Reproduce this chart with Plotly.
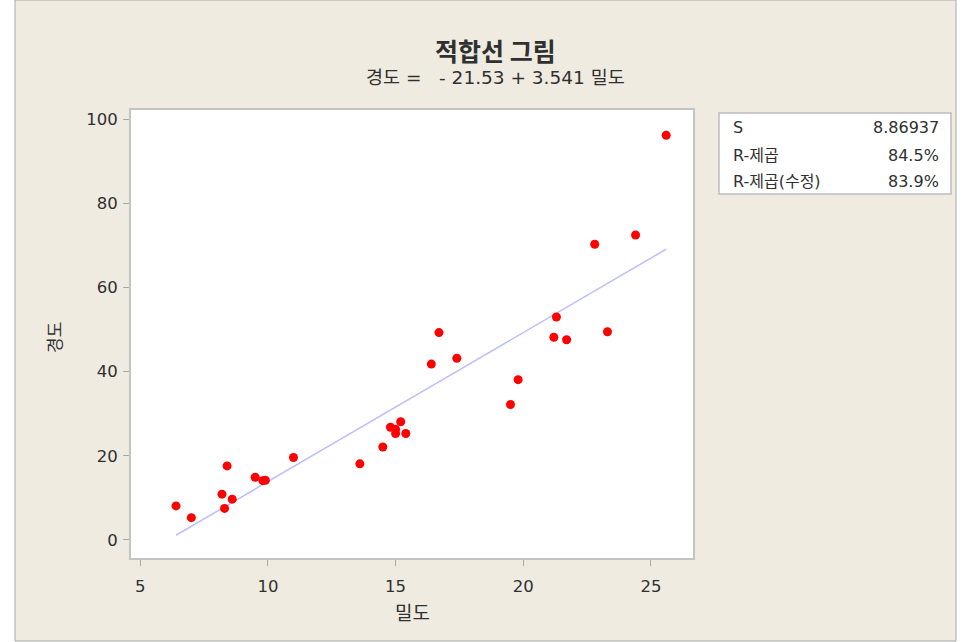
import numpy as np
import plotly.graph_objects as go

# ---- data ----
density = [6.4, 7.0, 8.2, 8.3, 8.4, 8.6, 9.5, 9.8, 9.9, 11.0,
           13.6, 14.5, 14.8, 15.0, 15.0, 15.2, 15.4, 16.4, 16.7, 17.4,
           19.5, 19.8, 21.2, 21.3, 21.7, 22.8, 23.3, 24.4, 25.6]
hardness = [8.1, 5.3, 10.9, 7.5, 17.6, 9.7, 14.9, 14.1, 14.2, 19.6,
            18.1, 22.1, 26.8, 26.3, 25.3, 28.1, 25.3, 41.8, 49.3, 43.2,
            32.2, 38.1, 48.2, 53.0, 47.6, 70.3, 49.5, 72.5, 96.2]
intercept = -21.53
slope = 3.541
stat_labels = ["S", "R-제곱", "R-제곱(수정)"]
stat_values = ["8.86937", "84.5%", "83.9%"]
x_ticks = [5, 10, 15, 20, 25]
y_ticks = [0, 20, 40, 60, 80, 100]

# ---- figure geometry (pixels) ----
W, H = 966, 642
L, R, T, B = 131, 693, 110, 558
pw, ph = R - L, B - T


def px(x):
    return (x - L) / pw


def py(y):
    return (B - y) / ph


LAT = "DejaVu Sans, Noto Sans CJK KR, sans-serif"
KR = "Noto Sans CJK KR, DejaVu Sans, sans-serif"
TXT = "#303030"

fit_x = np.array([min(density), max(density)])
fit_y = intercept + slope * fit_x

fig = go.Figure()
fig.add_trace(go.Scatter(x=fit_x, y=fit_y, mode="lines",
                         line=dict(color="#BCBCFF", width=1.5),
                         hoverinfo="skip", showlegend=False))
fig.add_trace(go.Scatter(x=density, y=hardness, mode="markers",
                         marker=dict(color="#FF0000", size=9, line=dict(width=0)),
                         showlegend=False))

shapes = [
    dict(type="rect", xref="paper", yref="paper", layer="below",
         x0=px(15), x1=px(956), y0=py(641), y1=py(0),
         fillcolor="#EFEBE0", line=dict(color="#A8A8A8", width=1)),
    dict(type="rect", xref="paper", yref="paper", layer="below",
         x0=0, x1=1, y0=0, y1=1, fillcolor="#FFFFFF", line=dict(width=0)),
    dict(type="rect", xref="paper", yref="paper", layer="below",
         x0=px(719), x1=px(951), y0=py(194), y1=py(113),
         fillcolor="#FFFFFF", line=dict(color="#BDBDBD", width=1.5)),
]

ann = [
    dict(text="<b>적합선 그림</b>", x=px(495.5), y=py(49.5), xref="paper", yref="paper",
         showarrow=False, xanchor="center", yanchor="middle",
         font=dict(family=KR, size=25, color=TXT)),
    dict(text="경도 =   - 21.53 + 3.541 밀도", x=px(495.5), y=py(77.5), xref="paper", yref="paper",
         showarrow=False, xanchor="center", yanchor="middle",
         font=dict(family=LAT, size=18.5, color=TXT)),
    dict(text="밀도", x=0.5, y=py(611), xref="paper", yref="paper",
         showarrow=False, xanchor="center", yanchor="middle",
         font=dict(family=KR, size=19, color=TXT)),
    dict(text="경도", x=px(53), y=py(338), xref="paper", yref="paper", textangle=-90,
         showarrow=False, xanchor="center", yanchor="middle",
         font=dict(family=KR, size=17, color=TXT)),
]
row_y = [128, 155, 181]
for lab, val, ry in zip(stat_labels, stat_values, row_y):
    ann.append(dict(text=lab, x=px(731), y=py(ry), xref="paper", yref="paper",
                    showarrow=False, xanchor="left", yanchor="middle",
                    font=dict(family=LAT, size=16, color=TXT)))
    ann.append(dict(text=val, x=px(941), y=py(ry), xref="paper", yref="paper",
                    showarrow=False, xanchor="right", yanchor="middle",
                    font=dict(family=LAT, size=16, color=TXT)))

axis_common = dict(showgrid=False, zeroline=False, showline=True, mirror=True,
                   linecolor="#C4C4C4", linewidth=2, ticks="outside", ticklen=6,
                   tickcolor="#A8A8A8", tickwidth=1,
                   tickfont=dict(family=LAT, size=16.5, color=TXT))

fig.update_layout(
    width=W, height=H,
    margin=dict(l=L, r=W - R, t=T, b=H - B, pad=0),
    paper_bgcolor="#FFFFFF", plot_bgcolor="rgba(0,0,0,0)",
    shapes=shapes, annotations=ann, showlegend=False,
    xaxis=dict(range=[4.636, 26.65], tickvals=x_ticks, ticklabelstandoff=6, **axis_common),
    yaxis=dict(range=[-4.28, 102.2], tickvals=y_ticks, ticklabelstandoff=2, **axis_common),
)

fig.write_html("out.html", config={"displayModeBar": False},
               post_script="document.body.style.margin='0';document.body.style.padding='0';")
